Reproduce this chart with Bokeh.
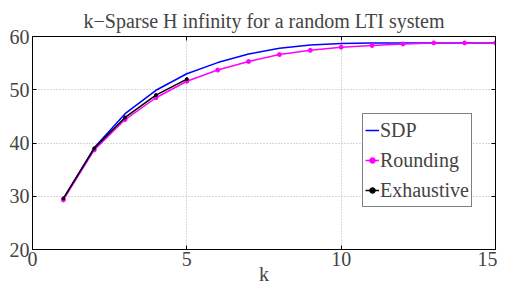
from bokeh.plotting import figure
from bokeh.models import LinearAxis, Legend, LegendItem, FixedTicker, Range1d
from bokeh.embed import file_html
from bokeh.resources import INLINE

k_all = [1, 2, 3, 4, 5, 6, 7, 8, 9, 10, 11, 12, 13, 14, 15]
sdp = [29.5, 39.1, 45.5, 49.9, 53.0, 55.1, 56.7, 57.8, 58.4, 58.7, 58.8, 58.8, 58.8, 58.8, 58.8]
rounding = [29.3, 38.7, 44.4, 48.5, 51.6, 53.7, 55.3, 56.6, 57.4, 58.0, 58.3, 58.6, 58.8, 58.8, 58.8]
k_exh = [1, 2, 3, 4, 5]
exhaustive = [29.6, 39.0, 44.8, 49.0, 52.0]
x_ticks = [0, 5, 10, 15]
y_ticks = [20, 30, 40, 50, 60]

FONT = "'Liberation Serif', 'Times New Roman', serif"
FS = "20px"

p = figure(width=497, height=287, output_backend="svg", toolbar_location=None,
           x_range=Range1d(0, 15), y_range=Range1d(20, 60),
           title="k\u2212Sparse H infinity for a random LTI system",
           min_border_left=32, min_border_right=2, min_border_top=36, min_border_bottom=4)
p.title.text_font = FONT
p.title.text_font_size = FS
p.title.text_font_style = "normal"
p.title.align = "center"
p.title.offset = 0
p.outline_line_color = "black"
p.outline_line_width = 1
p.background_fill_color = "white"
p.border_fill_color = "white"

for ax in (p.xaxis[0], p.yaxis[0]):
    ax.major_label_text_font = FONT
    ax.major_label_text_font_size = FS
    ax.major_tick_in = 4
    ax.major_tick_out = 0
    ax.minor_tick_in = 0
    ax.minor_tick_out = 0
    ax.axis_line_color = "black"
    ax.major_tick_line_color = "black"
p.xaxis.ticker = FixedTicker(ticks=x_ticks)
p.yaxis.ticker = FixedTicker(ticks=y_ticks)
p.xaxis.major_label_standoff = 2
p.yaxis.major_label_standoff = 3
p.xaxis.axis_label = "k"
p.xaxis.axis_label_text_font = FONT
p.xaxis.axis_label_text_font_size = FS
p.xaxis.axis_label_text_font_style = "normal"
p.xaxis.axis_label_standoff = -6

for loc, tk in (("above", x_ticks), ("right", y_ticks)):
    ax = LinearAxis(ticker=FixedTicker(ticks=tk),
                    major_label_overrides={t: "" for t in tk},
                    major_tick_in=4, major_tick_out=0, minor_tick_in=0, minor_tick_out=0,
                    major_label_standoff=0, axis_label_standoff=0,
                    axis_line_color="black")
    p.add_layout(ax, loc)

p.grid.grid_line_color = "#b0b0b0"
p.grid.grid_line_dash = "1 2"
p.grid.grid_line_width = 1
p.xgrid.ticker = FixedTicker(ticks=[5, 10])
p.ygrid.ticker = FixedTicker(ticks=[30, 40, 50])

l1 = p.line(k_all, sdp, line_color="#0000ff", line_width=1.5)
l2 = p.line(k_all, rounding, line_color="#ff00ff", line_width=1.5)
s2 = p.scatter(k_all, rounding, size=4, color="#ff00ff")
l3 = p.line(k_exh, exhaustive, line_color="black", line_width=1.5)
s3 = p.scatter(k_exh, exhaustive, size=3, color="black")

legend = Legend(items=[LegendItem(label="SDP", renderers=[l1]),
                       LegendItem(label="Rounding", renderers=[l2, s2]),
                       LegendItem(label="Exhaustive", renderers=[l3, s3])],
                location=(330, 42))
legend.label_text_font = FONT
legend.label_text_font_size = FS
legend.border_line_color = "black"
legend.border_line_width = 1
legend.glyph_width = 14
legend.glyph_height = 20
legend.label_standoff = 1
legend.label_height = 28
legend.spacing = 2
legend.padding = 2
legend.margin = 0
legend.background_fill_alpha = 1
p.add_layout(legend, "center")

open("out.html", "w").write(file_html(p, INLINE))
